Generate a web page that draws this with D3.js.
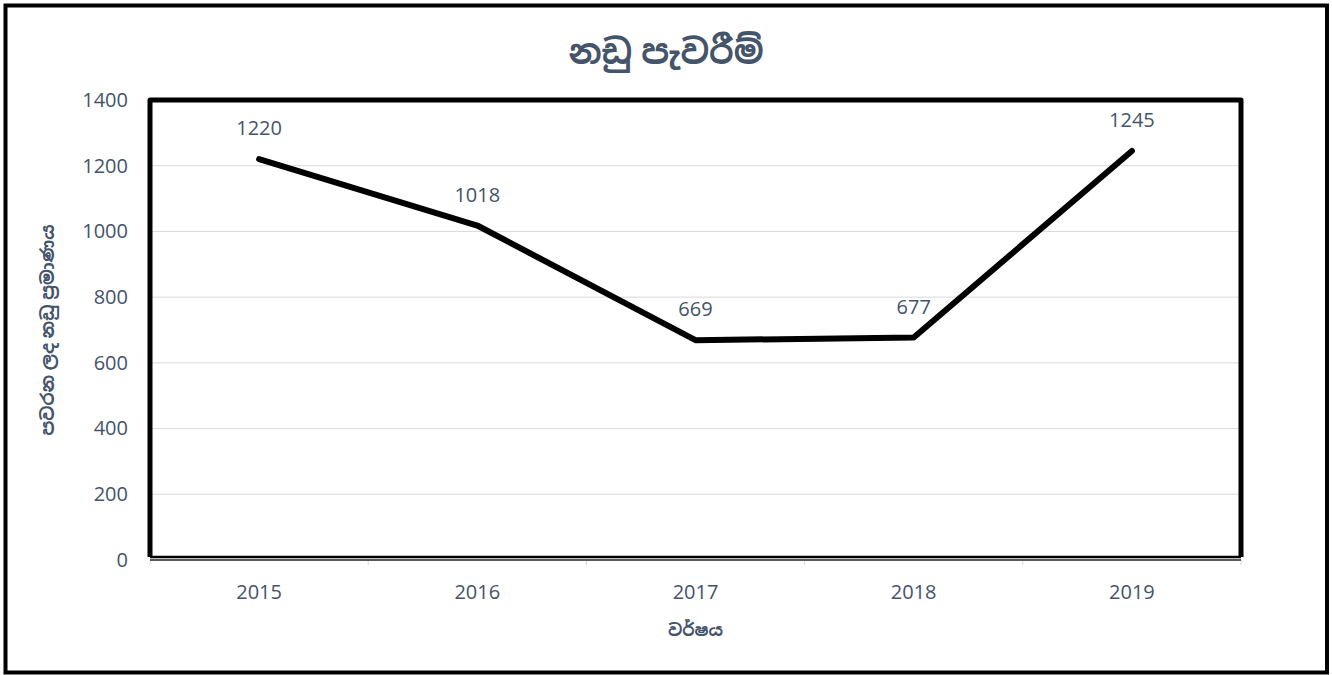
<!DOCTYPE html>
<html>
<head>
<meta charset="utf-8">
<script src="https://cdn.jsdelivr.net/npm/d3@7"></script>
<style>
  body { margin: 0; background: #fff; }
  text { font-family: "Open Sans", "Noto Sans Sinhala", "Noto Sans", sans-serif; }
</style>
</head>
<body>
<div class="chartdiv"></div>
<script>
var years = ["2015", "2016", "2017", "2018", "2019"];
var cases = [1220, 1018, 669, 677, 1245];
var yTicks = [0, 200, 400, 600, 800, 1000, 1200, 1400];

var chartTitle = "නඩු පැවරීම්";
var yTitle = "පවරන ලද නඩු ප්‍රමාණය";
var xTitle = "වර්ෂය";

var W = 1332, H = 675;
var margin = {top: 100, right: 91, bottom: 115, left: 150};
var width = W - margin.left - margin.right;
var height = H - margin.top - margin.bottom;
var textColor = "#44546a";

var svg = d3.select(".chartdiv")
    .append("svg")
    .attr("width", W)
    .attr("height", H);

// outer frame
svg.append("rect")
    .attr("x", 5.5).attr("y", 5.5)
    .attr("width", W - 10.5).attr("height", H - 8)
    .attr("fill", "#fff")
    .attr("stroke", "#000")
    .attr("stroke-width", 4);

svg.append("text")
    .attr("x", 666).attr("y", 64)
    .attr("text-anchor", "middle")
    .attr("font-size", 34)
    .attr("font-weight", "bold")
    .attr("fill", textColor)
    .text(chartTitle);

var g = svg.append("g")
    .attr("transform", "translate(" + margin.left + "," + margin.top + ")");

var x = d3.scaleBand().domain(years).range([0, width]);
var y = d3.scaleLinear().domain([0, 1400]).range([height, 0]);

// gridlines
g.selectAll(".grid")
    .data(yTicks.filter(function(d) { return d > 0; }))
  .enter().append("line")
    .attr("x1", 0).attr("x2", width)
    .attr("y1", function(d) { return y(d); })
    .attr("y2", function(d) { return y(d); })
    .attr("stroke", "#d9d9d9")
    .attr("stroke-width", 1);

// plot area border: thick top and sides, thin bottom
g.append("path")
    .attr("d", "M0," + (height - 3) + "V0H" + width + "V" + (height - 3))
    .attr("fill", "none")
    .attr("stroke", "#000")
    .attr("stroke-width", 5)
    .attr("stroke-linejoin", "round");
g.append("line")
    .attr("x1", 0).attr("x2", width)
    .attr("y1", height - 3).attr("y2", height - 3)
    .attr("stroke", "#000")
    .attr("stroke-width", 2.5);

// y axis
var yAxis = g.append("g")
    .call(d3.axisLeft(y).tickValues(yTicks).tickFormat(d3.format("d")).tickSize(0).tickPadding(22));
yAxis.select(".domain").remove();
yAxis.selectAll("text")
    .attr("font-size", 20)
    .attr("fill", textColor)
    .style("font-family", "'Open Sans', sans-serif");

// x axis
var bounds = years.map(function(d) { return x(d); }).concat([width]);
g.selectAll(".xtick")
    .data(bounds)
  .enter().append("line")
    .attr("x1", function(d) { return d; })
    .attr("x2", function(d) { return d; })
    .attr("y1", height)
    .attr("y2", height + 5)
    .attr("stroke", "#d9d9d9");

g.append("line")
    .attr("x1", 0).attr("x2", width)
    .attr("y1", height).attr("y2", height)
    .attr("stroke", "#222")
    .attr("stroke-width", 1.5);

g.selectAll(".xlabel")
    .data(years)
  .enter().append("text")
    .attr("x", function(d) { return x(d) + x.bandwidth() / 2; })
    .attr("y", height + 39)
    .attr("text-anchor", "middle")
    .attr("font-size", 20)
    .attr("fill", textColor)
    .text(function(d) { return d; });

// line
var line = d3.line()
    .x(function(d, i) { return x(years[i]) + x.bandwidth() / 2; })
    .y(function(d) { return y(d); });

g.append("path")
    .datum(cases)
    .attr("d", line)
    .attr("fill", "none")
    .attr("stroke", "#000")
    .attr("stroke-width", 6)
    .attr("stroke-linecap", "round")
    .attr("stroke-linejoin", "round");

// data labels
g.selectAll(".dlabel")
    .data(cases)
  .enter().append("text")
    .attr("x", function(d, i) { return x(years[i]) + x.bandwidth() / 2; })
    .attr("y", function(d) { return y(d) - 24; })
    .attr("text-anchor", "middle")
    .attr("font-size", 20)
    .attr("fill", textColor)
    .text(function(d) { return d; });

// axis titles
svg.append("text")
    .attr("transform", "translate(54," + (margin.top + height / 2) + ") rotate(-90)")
    .attr("text-anchor", "middle")
    .attr("font-size", 18)
    .attr("font-weight", "bold")
    .attr("fill", textColor)
    .text(yTitle);

svg.append("text")
    .attr("x", margin.left + width / 2)
    .attr("y", 636)
    .attr("text-anchor", "middle")
    .attr("font-size", 17)
    .attr("font-weight", "bold")
    .attr("fill", textColor)
    .text(xTitle);
</script>
</body>
</html>
